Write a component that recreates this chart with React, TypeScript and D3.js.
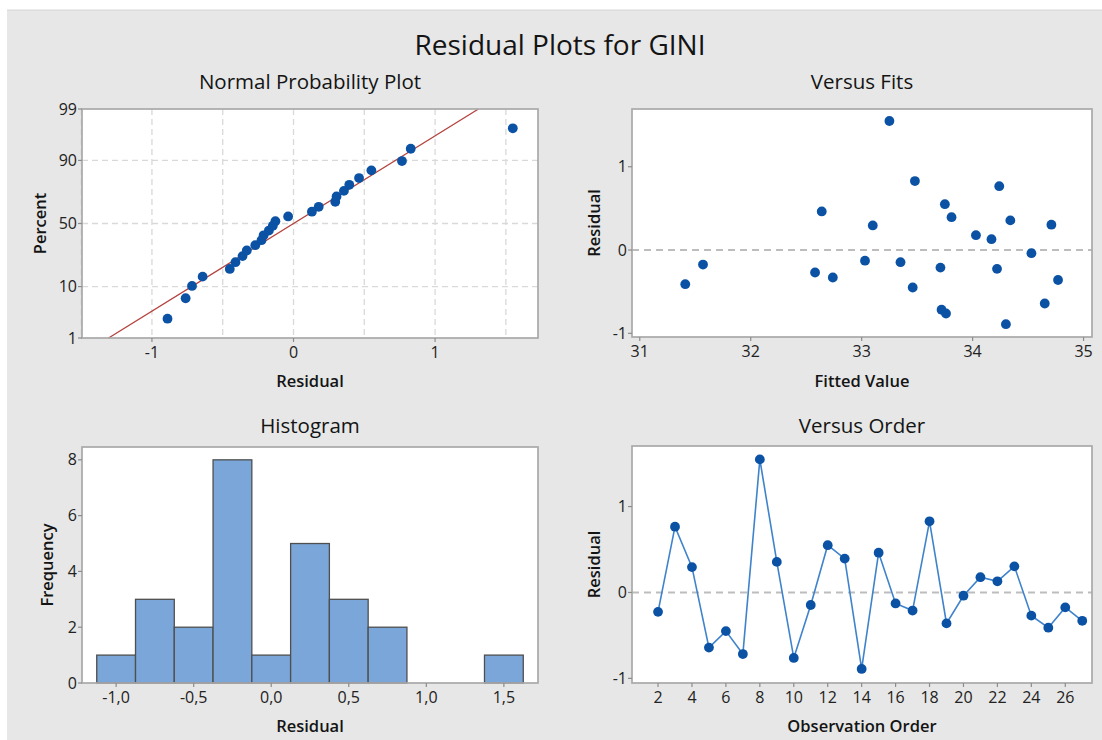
import React from "react";
import * as d3 from "d3";

// ---------- data ----------
const observationOrder = [2, 3, 4, 5, 6, 7, 8, 9, 10, 11, 12, 13, 14, 15, 16, 17, 18, 19, 20, 21, 22, 23, 24, 25, 26, 27];
const residuals = [-0.226, 0.766, 0.295, -0.642, -0.45, -0.717, 1.549, 0.356, -0.762, -0.146, 0.55, 0.394, -0.89, 0.463, -0.128, -0.211, 0.828, -0.36, -0.038, 0.178, 0.13, 0.304, -0.27, -0.41, -0.174, -0.33];
const fittedValues = [34.22, 34.24, 33.1, 34.65, 33.46, 33.72, 33.25, 34.34, 33.76, 33.35, 33.75, 33.81, 34.3, 32.64, 33.03, 33.71, 33.48, 34.77, 34.53, 34.03, 34.17, 34.71, 32.58, 31.41, 31.57, 32.74];

const histMidpoints = [-1.0, -0.75, -0.5, -0.25, 0, 0.25, 0.5, 0.75, 1.0, 1.25, 1.5];
const histCounts = [1, 3, 2, 8, 1, 5, 3, 2, 0, 0, 1];
const histBinWidth = 0.25;

const fitMean = 0;
const fitSigma = 0.5615;

const percentTicks = [1, 10, 50, 90, 99];
const percentGrid = [10, 50, 90];
const nppXTicks = [-1, 0, 1];
const nppXGrid = [-1.5, -1, -0.5, 0, 0.5, 1, 1.5];
const fitsXTicks = [31, 32, 33, 34, 35];
const residualTicks = [-1, 0, 1];
const histXTicks = [-1.0, -0.5, 0, 0.5, 1.0, 1.5];
const histYTicks = [0, 2, 4, 6, 8];
const orderXTicks = [2, 4, 6, 8, 10, 12, 14, 16, 18, 20, 22, 24, 26];

// ---------- helpers ----------
function probit(p: number): number {
  const a = [-3.969683028665376e1, 2.209460984245205e2, -2.759285104469687e2, 1.38357751867269e2, -3.066479806614716e1, 2.506628277459239];
  const b = [-5.447609879822406e1, 1.615858368580409e2, -1.556989798598866e2, 6.680131188771972e1, -1.328068155288572e1];
  const c = [-7.784894002430293e-3, -3.223964580411365e-1, -2.400758277161838, -2.549732539343734, 4.374664141464968, 2.938163982698783];
  const d = [7.784695709041462e-3, 3.224671290700398e-1, 2.445134137142996, 3.754408661907416];
  const plow = 0.02425;
  const phigh = 1 - plow;
  if (p < plow) {
    const q = Math.sqrt(-2 * Math.log(p));
    return (((((c[0] * q + c[1]) * q + c[2]) * q + c[3]) * q + c[4]) * q + c[5]) / ((((d[0] * q + d[1]) * q + d[2]) * q + d[3]) * q + 1);
  }
  if (p <= phigh) {
    const q = p - 0.5;
    const r = q * q;
    return ((((((a[0] * r + a[1]) * r + a[2]) * r + a[3]) * r + a[4]) * r + a[5]) * q) / (((((b[0] * r + b[1]) * r + b[2]) * r + b[3]) * r + b[4]) * r + 1);
  }
  const q = Math.sqrt(-2 * Math.log(1 - p));
  return -(((((c[0] * q + c[1]) * q + c[2]) * q + c[3]) * q + c[4]) * q + c[5]) / ((((d[0] * q + d[1]) * q + d[2]) * q + d[3]) * q + 1);
}

const FONT = "'Open Sans', 'Noto Sans', sans-serif";
const TEXT = "#141414";
const TICKTEXT = "#222222";
const FRAME = "#a9a9a9";
const DOT = "#0b52a5";
const LINEBLUE = "#3f83cc";
const TICK_FS = 16;
const AXIS_FS = 16.5;
const PANEL_FS = 20.5;
const DOT_R = 4.9;

type Box = { l: number; r: number; t: number; b: number };

function Frame({ box }: { box: Box }) {
  return <rect x={box.l} y={box.t} width={box.r - box.l} height={box.b - box.t} fill="#ffffff" />;
}
function Border({ box }: { box: Box }) {
  return <rect x={box.l} y={box.t} width={box.r - box.l} height={box.b - box.t} fill="none" stroke={FRAME} strokeWidth={1.7} />;
}

function XAxis({ box, scale, ticks, fmt }: { box: Box; scale: (v: number) => number; ticks: number[]; fmt: (v: number) => string }) {
  return (
    <g>
      {ticks.map((t) => (
        <g key={t}>
          <line x1={scale(t)} x2={scale(t)} y1={box.b} y2={box.b + 4} stroke="#8c8c8c" strokeWidth={1.2} />
          <text x={scale(t)} y={box.b + 20} textAnchor="middle" fontSize={TICK_FS} fill={TICKTEXT} fontFamily={FONT}>
            {fmt(t)}
          </text>
        </g>
      ))}
    </g>
  );
}
function YAxis({ box, scale, ticks, fmt }: { box: Box; scale: (v: number) => number; ticks: number[]; fmt: (v: number) => string }) {
  return (
    <g>
      {ticks.map((t) => (
        <g key={t}>
          <line x1={box.l - 4} x2={box.l} y1={scale(t)} y2={scale(t)} stroke="#8c8c8c" strokeWidth={1.2} />
          <text x={box.l - 5} y={scale(t)} dy="0.35em" textAnchor="end" fontSize={TICK_FS} fill={TICKTEXT} fontFamily={FONT}>
            {fmt(t)}
          </text>
        </g>
      ))}
    </g>
  );
}

function Titles({ box, title, xTitle, yTitle, titleY, xTitleY, yTitleX }: { box: Box; title: string; xTitle: string; yTitle: string; titleY: number; xTitleY: number; yTitleX: number }) {
  const cx = (box.l + box.r) / 2;
  const cy = (box.t + box.b) / 2;
  return (
    <g fontFamily={FONT} fill={TEXT}>
      <text x={cx} y={titleY} textAnchor="middle" fontSize={PANEL_FS} fontWeight={500}>
        {title}
      </text>
      <text x={cx} y={xTitleY} textAnchor="middle" fontSize={AXIS_FS} fontWeight={600}>
        {xTitle}
      </text>
      <text transform={`translate(${yTitleX},${cy}) rotate(-90)`} textAnchor="middle" fontSize={AXIS_FS} fontWeight={600}>
        {yTitle}
      </text>
    </g>
  );
}

export default function App() {
  const n = residuals.length;

  // ---- Normal probability plot ----
  const nppBox: Box = { l: 82, r: 538, t: 109, b: 338 };
  const nppX = d3.scaleLinear().domain([-1.494, 1.727]).range([nppBox.l, nppBox.r]);
  const nppY = d3.scaleLinear().domain([probit(0.01), probit(0.99)]).range([nppBox.b, nppBox.t]);
  const sorted = residuals.slice().sort((a, b) => a - b);
  const nppPoints = sorted.map((v, i) => ({ x: v, z: probit((i + 1 - 0.3) / (n + 0.4)) }));
  const zLo = probit(0.01);
  const zHi = probit(0.99);

  // ---- Versus fits ----
  const fitsBox: Box = { l: 632, r: 1092, t: 109, b: 337 };
  const fitsX = d3.scaleLinear().domain([30.93, 35.076]).range([fitsBox.l, fitsBox.r]);
  const fitsY = d3.scaleLinear().domain([-1.044, 1.693]).range([fitsBox.b, fitsBox.t]);

  // ---- Histogram ----
  const histBox: Box = { l: 82, r: 538, t: 447, b: 683 };
  const histX = d3.scaleLinear().domain([-1.22, 1.72]).range([histBox.l, histBox.r]);
  const histY = d3.scaleLinear().domain([0, 8.46]).range([histBox.b, histBox.t]);

  // ---- Versus order ----
  const ordBox: Box = { l: 632, r: 1092, t: 446, b: 683 };
  const ordX = d3.scaleLinear().domain([0.466, 27.575]).range([ordBox.l, ordBox.r]);
  const ordY = d3.scaleLinear().domain([-1.054, 1.705]).range([ordBox.b, ordBox.t]);
  const ordLine = d3
    .line<number>()
    .x((_, i) => ordX(observationOrder[i]))
    .y((v) => ordY(v))(residuals) as string;

  const fmtInt = (v: number) => d3.format("d")(v).replace("−", "-");
  const fmtComma = (v: number) => d3.format(".1f")(v).replace("−", "-").replace(".", ",");

  return (
    <svg width={1102} height={740} style={{ position: "absolute", left: 0, top: 0, display: "block" }} xmlns="http://www.w3.org/2000/svg">
      <rect x={0} y={0} width={1102} height={740} fill="#ffffff" />
      <rect x={7} y={10} width={1095} height={730} fill="#e6e7e6" />
      <line x1={7} x2={1102} y1={10} y2={10} stroke="#d6d6d6" strokeWidth={1} />

      <text x={560} y={55} textAnchor="middle" fontFamily={FONT} fontSize={28} fill={TEXT}>
        Residual Plots for GINI
      </text>

      {/* Normal probability plot */}
      <Frame box={nppBox} />
      <g stroke="#d9d9d9" strokeWidth={1.3} strokeDasharray="6,4">
        {nppXGrid.map((g) => (
          <line key={g} x1={nppX(g)} x2={nppX(g)} y1={nppBox.t} y2={nppBox.b} />
        ))}
        {percentGrid.map((g) => (
          <line key={g} x1={nppBox.l} x2={nppBox.r} y1={nppY(probit(g / 100))} y2={nppY(probit(g / 100))} />
        ))}
      </g>
      <line
        x1={nppX(fitMean + fitSigma * zLo)}
        y1={nppY(zLo)}
        x2={nppX(fitMean + fitSigma * zHi)}
        y2={nppY(zHi)}
        stroke="#b5433f"
        strokeWidth={1.4}
      />
      {nppPoints.map((p, i) => (
        <circle key={i} cx={nppX(p.x)} cy={nppY(p.z)} r={DOT_R} fill={DOT} />
      ))}
      <Border box={nppBox} />
      <XAxis box={nppBox} scale={nppX} ticks={nppXTicks} fmt={fmtInt} />
      <YAxis box={nppBox} scale={(v) => nppY(probit(v / 100))} ticks={percentTicks} fmt={fmtInt} />
      <Titles box={nppBox} title="Normal Probability Plot" xTitle="Residual" yTitle="Percent" titleY={89} xTitleY={387} yTitleX={46} />

      {/* Versus fits */}
      <Frame box={fitsBox} />
      <line x1={fitsBox.l} x2={fitsBox.r} y1={fitsY(0)} y2={fitsY(0)} stroke="#bdbdbd" strokeWidth={2} strokeDasharray="7,5" />
      {fittedValues.map((f, i) => (
        <circle key={i} cx={fitsX(f)} cy={fitsY(residuals[i])} r={DOT_R} fill={DOT} />
      ))}
      <Border box={fitsBox} />
      <XAxis box={fitsBox} scale={fitsX} ticks={fitsXTicks} fmt={fmtInt} />
      <YAxis box={fitsBox} scale={fitsY} ticks={residualTicks} fmt={fmtInt} />
      <Titles box={fitsBox} title="Versus Fits" xTitle="Fitted Value" yTitle="Residual" titleY={89} xTitleY={387} yTitleX={600} />

      {/* Histogram */}
      <Frame box={histBox} />
      {histMidpoints.map((m, i) =>
        histCounts[i] > 0 ? (
          <rect
            key={m}
            x={histX(m - histBinWidth / 2)}
            y={histY(histCounts[i])}
            width={histX(m + histBinWidth / 2) - histX(m - histBinWidth / 2)}
            height={histY(0) - histY(histCounts[i])}
            fill="#7ba6d9"
            stroke="#4f4f4f"
            strokeWidth={1.3}
          />
        ) : null
      )}
      <Border box={histBox} />
      <XAxis box={histBox} scale={histX} ticks={histXTicks} fmt={fmtComma} />
      <YAxis box={histBox} scale={histY} ticks={histYTicks} fmt={fmtInt} />
      <Titles box={histBox} title="Histogram" xTitle="Residual" yTitle="Frequency" titleY={433} xTitleY={732} yTitleX={53} />

      {/* Versus order */}
      <Frame box={ordBox} />
      <line x1={ordBox.l} x2={ordBox.r} y1={ordY(0)} y2={ordY(0)} stroke="#bdbdbd" strokeWidth={2} strokeDasharray="7,5" />
      <path d={ordLine} fill="none" stroke={LINEBLUE} strokeWidth={1.6} />
      {residuals.map((v, i) => (
        <circle key={i} cx={ordX(observationOrder[i])} cy={ordY(v)} r={DOT_R} fill={DOT} />
      ))}
      <Border box={ordBox} />
      <XAxis box={ordBox} scale={ordX} ticks={orderXTicks} fmt={fmtInt} />
      <YAxis box={ordBox} scale={ordY} ticks={residualTicks} fmt={fmtInt} />
      <Titles box={ordBox} title="Versus Order" xTitle="Observation Order" yTitle="Residual" titleY={433} xTitleY={732} yTitleX={600} />
    </svg>
  );
}
